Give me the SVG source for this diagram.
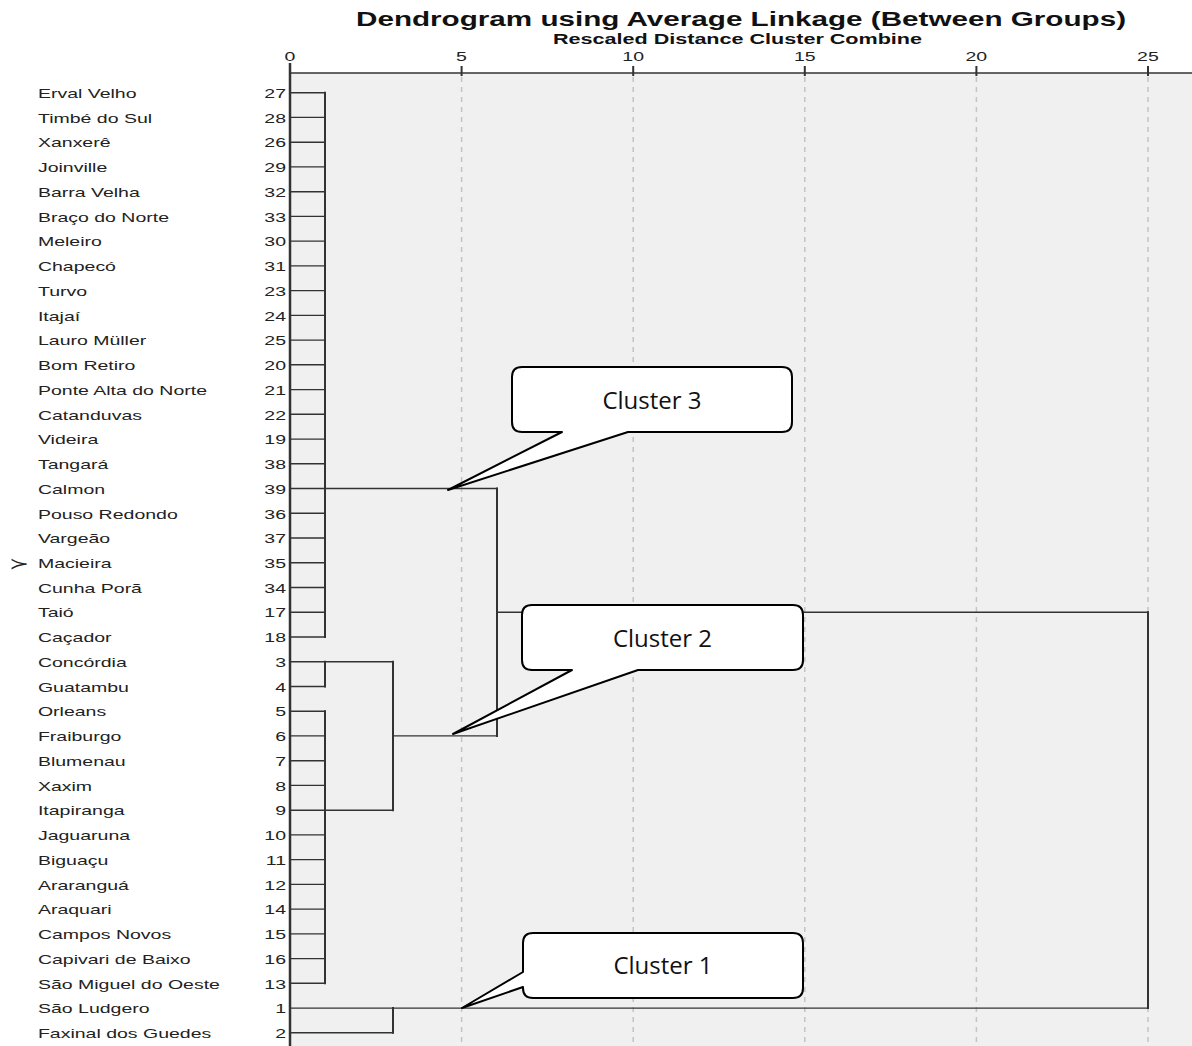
<svg xmlns="http://www.w3.org/2000/svg" width="1192" height="1046" viewBox="0 0 1192 1046">
<style>
.t{font-family:"Liberation Sans",Arial,sans-serif;fill:#222;font-size:13px}
.nm{text-anchor:start}
.num{text-anchor:end}
.ax{text-anchor:middle}
.tree{fill:none;stroke:#333;stroke-linecap:square}
.h{stroke-width:1.4}
.v{stroke-width:2}
.grid{stroke:#c4c4c4;stroke-width:1.5;stroke-dasharray:5 5;fill:none}
.callout{fill:#fff;stroke:#000;stroke-width:2;stroke-linejoin:round}
.ct{font-family:"Open Sans","Liberation Sans",sans-serif;font-size:24px;fill:#111;text-anchor:middle}
</style>
<rect x="0" y="0" width="1192" height="1046" fill="#fff"/>
<rect x="290" y="73" width="902" height="973" fill="#f0f0f0"/>
<g id="grid">
<path class="grid" d="M461.6,77V1046M633.2,77V1046M804.8,77V1046M976.4,77V1046M1148,77V1046"/>
</g>
<g id="title">
<text x="356" y="26" textLength="770" lengthAdjust="spacingAndGlyphs" style="font-family:'Liberation Sans',Arial,sans-serif;font-weight:bold;font-size:19.5px;fill:#111">Dendrogram using Average Linkage (Between Groups)</text>
<text x="553" y="44" textLength="369" lengthAdjust="spacingAndGlyphs" style="font-family:'Liberation Sans',Arial,sans-serif;font-weight:bold;font-size:14px;fill:#111">Rescaled Distance Cluster Combine</text>
</g>
<g id="axis">
<path d="M290,73H1192" stroke="#333" stroke-width="1.5" fill="none"/>
<path d="M290,63V1046" stroke="#333" stroke-width="2.5" fill="none"/>
<path d="M461.6,66V76M633.2,66V76M804.8,66V76M976.4,66V76M1148,66V76" stroke="#333" stroke-width="2" fill="none"/>
<g transform="scale(1.5,1)">
<text class="t ax" x="193.3" y="61">0</text>
<text class="t ax" x="307.7" y="61">5</text>
<text class="t ax" x="422.1" y="61">10</text>
<text class="t ax" x="536.5" y="61">15</text>
<text class="t ax" x="650.9" y="61">20</text>
<text class="t ax" x="765.3" y="61">25</text>
</g>
</g>
<g id="rows" transform="scale(1.5,1)">
<g id="row-27"><text class="t nm" x="25.3" y="98">Erval Velho</text><text class="t num" x="190.7" y="98">27</text></g>
<g id="row-28"><text class="t nm" x="25.3" y="122.7">Timbé do Sul</text><text class="t num" x="190.7" y="122.7">28</text></g>
<g id="row-26"><text class="t nm" x="25.3" y="147.5">Xanxerê</text><text class="t num" x="190.7" y="147.5">26</text></g>
<g id="row-29"><text class="t nm" x="25.3" y="172.2">Joinville</text><text class="t num" x="190.7" y="172.2">29</text></g>
<g id="row-32"><text class="t nm" x="25.3" y="197">Barra Velha</text><text class="t num" x="190.7" y="197">32</text></g>
<g id="row-33"><text class="t nm" x="25.3" y="221.7">Braço do Norte</text><text class="t num" x="190.7" y="221.7">33</text></g>
<g id="row-30"><text class="t nm" x="25.3" y="246.4">Meleiro</text><text class="t num" x="190.7" y="246.4">30</text></g>
<g id="row-31"><text class="t nm" x="25.3" y="271.2">Chapecó</text><text class="t num" x="190.7" y="271.2">31</text></g>
<g id="row-23"><text class="t nm" x="25.3" y="295.9">Turvo</text><text class="t num" x="190.7" y="295.9">23</text></g>
<g id="row-24"><text class="t nm" x="25.3" y="320.7">Itajaí</text><text class="t num" x="190.7" y="320.7">24</text></g>
<g id="row-25"><text class="t nm" x="25.3" y="345.4">Lauro Müller</text><text class="t num" x="190.7" y="345.4">25</text></g>
<g id="row-20"><text class="t nm" x="25.3" y="370.1">Bom Retiro</text><text class="t num" x="190.7" y="370.1">20</text></g>
<g id="row-21"><text class="t nm" x="25.3" y="394.9">Ponte Alta do Norte</text><text class="t num" x="190.7" y="394.9">21</text></g>
<g id="row-22"><text class="t nm" x="25.3" y="419.6">Catanduvas</text><text class="t num" x="190.7" y="419.6">22</text></g>
<g id="row-19"><text class="t nm" x="25.3" y="444.4">Videira</text><text class="t num" x="190.7" y="444.4">19</text></g>
<g id="row-38"><text class="t nm" x="25.3" y="469.1">Tangará</text><text class="t num" x="190.7" y="469.1">38</text></g>
<g id="row-39"><text class="t nm" x="25.3" y="493.8">Calmon</text><text class="t num" x="190.7" y="493.8">39</text></g>
<g id="row-36"><text class="t nm" x="25.3" y="518.6">Pouso Redondo</text><text class="t num" x="190.7" y="518.6">36</text></g>
<g id="row-37"><text class="t nm" x="25.3" y="543.3">Vargeão</text><text class="t num" x="190.7" y="543.3">37</text></g>
<g id="row-35"><text class="t nm" x="25.3" y="568.1">Macieira</text><text class="t num" x="190.7" y="568.1">35</text><text x="6" y="569" style="font-family:'DejaVu Sans',sans-serif;font-size:16px;fill:#222">≻</text></g>
<g id="row-34"><text class="t nm" x="25.3" y="592.8">Cunha Porã</text><text class="t num" x="190.7" y="592.8">34</text></g>
<g id="row-17"><text class="t nm" x="25.3" y="617.5">Taió</text><text class="t num" x="190.7" y="617.5">17</text></g>
<g id="row-18"><text class="t nm" x="25.3" y="642.3">Caçador</text><text class="t num" x="190.7" y="642.3">18</text></g>
<g id="row-3"><text class="t nm" x="25.3" y="667">Concórdia</text><text class="t num" x="190.7" y="667">3</text></g>
<g id="row-4"><text class="t nm" x="25.3" y="691.8">Guatambu</text><text class="t num" x="190.7" y="691.8">4</text></g>
<g id="row-5"><text class="t nm" x="25.3" y="716.5">Orleans</text><text class="t num" x="190.7" y="716.5">5</text></g>
<g id="row-6"><text class="t nm" x="25.3" y="741.2">Fraiburgo</text><text class="t num" x="190.7" y="741.2">6</text></g>
<g id="row-7"><text class="t nm" x="25.3" y="766">Blumenau</text><text class="t num" x="190.7" y="766">7</text></g>
<g id="row-8"><text class="t nm" x="25.3" y="790.7">Xaxim</text><text class="t num" x="190.7" y="790.7">8</text></g>
<g id="row-9"><text class="t nm" x="25.3" y="815.5">Itapiranga</text><text class="t num" x="190.7" y="815.5">9</text></g>
<g id="row-10"><text class="t nm" x="25.3" y="840.2">Jaguaruna</text><text class="t num" x="190.7" y="840.2">10</text></g>
<g id="row-11"><text class="t nm" x="25.3" y="864.9">Biguaçu</text><text class="t num" x="190.7" y="864.9">11</text></g>
<g id="row-12"><text class="t nm" x="25.3" y="889.7">Araranguá</text><text class="t num" x="190.7" y="889.7">12</text></g>
<g id="row-14"><text class="t nm" x="25.3" y="914.4">Araquari</text><text class="t num" x="190.7" y="914.4">14</text></g>
<g id="row-15"><text class="t nm" x="25.3" y="939.2">Campos Novos</text><text class="t num" x="190.7" y="939.2">15</text></g>
<g id="row-16"><text class="t nm" x="25.3" y="963.9">Capivari de Baixo</text><text class="t num" x="190.7" y="963.9">16</text></g>
<g id="row-13"><text class="t nm" x="25.3" y="988.6">São Miguel do Oeste</text><text class="t num" x="190.7" y="988.6">13</text></g>
<g id="row-1"><text class="t nm" x="25.3" y="1013.4">São Ludgero</text><text class="t num" x="190.7" y="1013.4">1</text></g>
<g id="row-2"><text class="t nm" x="25.3" y="1038.1">Faxinal dos Guedes</text><text class="t num" x="190.7" y="1038.1">2</text></g>
</g>
<g id="connectors">
<path class="tree h" d="M290,92.7H325M290,117.4H325M290,142.2H325M290,166.9H325M290,191.7H325M290,216.4H325M290,241.1H325M290,265.9H325M290,290.6H325M290,315.4H325M290,340.1H325M290,364.8H325M290,389.6H325M290,414.3H325M290,439.1H325M290,463.8H325M290,488.5H325M290,513.3H325M290,538H325M290,562.8H325M290,587.5H325M290,612.2H325M290,637H325M290,661.7H325M290,686.5H325M290,711.2H325M290,735.9H325M290,760.7H325M290,785.4H325M290,810.2H325M290,834.9H325M290,859.6H325M290,884.4H325M290,909.1H325M290,933.9H325M290,958.6H325M290,983.3H325M290,1008.1H393M290,1032.8H393"/>
<path class="tree v" d="M325,92.7V637M325,661.7V686.5M325,711.2V983.3M393,1008.1V1032.8M393,661.7V810.2M497,488.5V735.9M1148,612.2V1008.1"/>
<path class="tree h" d="M325,488.5H497M325,661.7H393M325,810.2H393M393,735.9H497M497,612.2H1148M393,1008.1H1148"/>
</g>
<g id="callout-3">
<path class="callout" d="M522,367H782Q792,367 792,377V422Q792,432 782,432H628L448,490L562,432H522Q512,432 512,422V377Q512,367 522,367Z"/>
<text class="ct" x="652" y="409">Cluster 3</text>
</g>
<g id="callout-2">
<path class="callout" d="M532,605H793Q803,605 803,615V660Q803,670 793,670H638L453,734L572,670H532Q522,670 522,660V615Q522,605 532,605Z"/>
<text class="ct" x="662.5" y="647">Cluster 2</text>
</g>
<g id="callout-1">
<path class="callout" d="M533,933H793Q803,933 803,943V988Q803,998 793,998H533Q523,998 523,988V987L462,1008L523,972V943Q523,933 533,933Z"/>
<text class="ct" x="663" y="974">Cluster 1</text>
</g>
</svg>
